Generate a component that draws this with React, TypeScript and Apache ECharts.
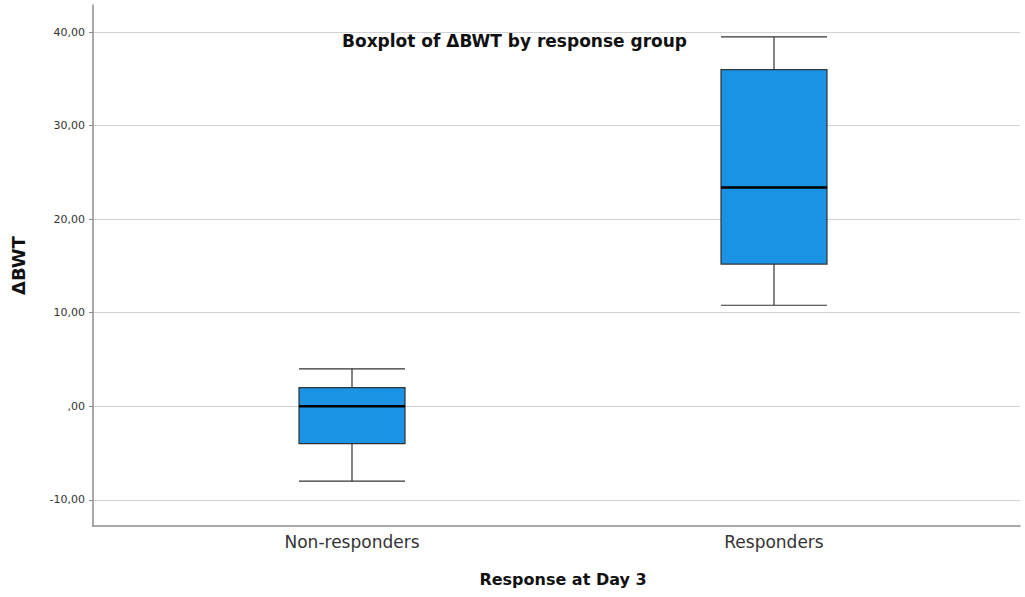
import React, { useEffect, useRef } from "react";
import * as echarts from "echarts";

// Response groups on the x axis
const groups = ["Non-responders", "Responders"];
// Five-number summaries of ΔBWT: [min, Q1, median, Q3, max]
const nonResponders = [-8, -4, 0, 2, 4];
const responders = [10.8, 15.2, 23.4, 36.0, 39.5];
// Y tick values
const yTicks = [-10, 0, 10, 20, 30, 40];

const Y_MIN = -12.8;
const Y_MAX = 42.9;

function fmt(v: number): string {
  const s = Math.abs(v).toFixed(2).replace(".", ",");
  const body = s.startsWith("0,") ? s.slice(1) : s;
  return (v < 0 ? "-" : "") + body;
}

export default function App() {
  const ref = useRef<HTMLDivElement>(null);

  useEffect(() => {
    if (!ref.current) return;
    const chart = echarts.init(ref.current, null, { renderer: "svg" });
    const boxes = [nonResponders, responders];
    const medians = boxes.map((b, i) => [i, b[2]]);
    const font = "DejaVu Sans, Verdana, sans-serif";

    chart.setOption({
      animation: false,
      backgroundColor: "#ffffff",
      textStyle: { fontFamily: font },
      graphic: [
        {
          type: "text",
          left: 342,
          top: 32,
          style: {
            text: "Boxplot of ΔBWT by response group",
            font: "bold 17px " + font,
            fill: "#111",
          },
        },
      ],
      grid: [
        { left: 93, right: 5, top: 5, bottom: 71 },
        { left: 141, right: 40, top: 5, bottom: 71 },
      ],
      xAxis: [
        {
          type: "value",
          gridIndex: 0,
          min: 0,
          max: 1,
          axisLine: { show: true, onZero: false, lineStyle: { color: "#8c8c8c", width: 1.5 } },
          axisTick: { show: false },
          axisLabel: { show: false },
          splitLine: { show: false },
        },
        {
          type: "category",
          gridIndex: 1,
          data: groups,
          axisLine: { show: false },
          axisTick: { show: false },
          splitLine: { show: false },
          axisLabel: { color: "#333", fontSize: 17, margin: 7, fontFamily: font },
          name: "Response at Day 3",
          nameLocation: "middle",
          nameGap: 45,
          nameTextStyle: { fontWeight: "bold", fontSize: 16, color: "#111", fontFamily: font },
        },
      ],
      yAxis: [
        {
          type: "value",
          gridIndex: 0,
          min: Y_MIN,
          max: Y_MAX,
          axisLine: { show: true, lineStyle: { color: "#8c8c8c", width: 1.5 } },
          axisTick: { show: true, customValues: yTicks, length: 4, lineStyle: { color: "#8c8c8c" } },
          axisLabel: {
            customValues: yTicks,
            formatter: (v: number) => fmt(v),
            color: "#333",
            fontSize: 11,
            margin: 8,
            fontFamily: font,
          },
          splitLine: { show: true, lineStyle: { color: "#d2d2d2", width: 1 } },
          name: "ΔBWT",
          nameLocation: "middle",
          nameGap: 66,
          nameTextStyle: { fontWeight: "bold", fontSize: 18, color: "#111", fontFamily: font },
        },
        {
          type: "value",
          gridIndex: 1,
          min: Y_MIN,
          max: Y_MAX,
          show: false,
          splitLine: { show: false },
        },
      ],
      series: [
        {
          type: "boxplot",
          xAxisIndex: 1,
          yAxisIndex: 1,
          data: boxes,
          boxWidth: [106, 106],
          itemStyle: { color: "#1b93e4", borderColor: "#333", borderWidth: 1.2 },
          z: 3,
        },
        {
          type: "custom",
          xAxisIndex: 1,
          yAxisIndex: 1,
          data: medians,
          z: 4,
          renderItem: (params: any, api: any) => {
            const p = api.coord([api.value(0), api.value(1)]);
            return {
              type: "line",
              shape: { x1: p[0] - 53, y1: p[1], x2: p[0] + 53, y2: p[1] },
              style: { stroke: "#000", lineWidth: 2.5 },
            };
          },
        },
      ],
    });
    return () => chart.dispose();
  }, []);

  return (
    <div
      ref={ref}
      style={{ position: "fixed", left: 0, top: 0, width: 1025, height: 597, background: "#fff" }}
    />
  );
}
